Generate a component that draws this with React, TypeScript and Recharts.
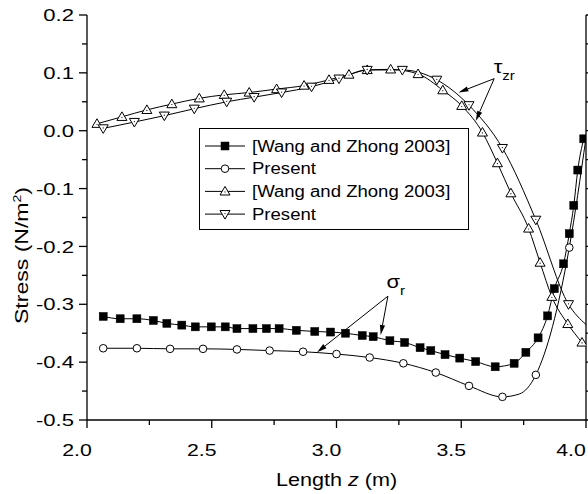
import React from 'react';
import { ComposedChart, Line, XAxis, YAxis, ReferenceLine, ReferenceDot, Legend } from 'recharts';

// ---------- data ----------
// sigma_r, [Wang and Zhong 2003] (filled squares)
const sqZ = [2.065, 2.133, 2.2, 2.266, 2.32, 2.38, 2.434, 2.498, 2.554, 2.601, 2.665, 2.719, 2.77, 2.839, 2.913, 2.976, 3.036, 3.103, 3.147, 3.214, 3.273, 3.335, 3.378, 3.435, 3.494, 3.558, 3.636, 3.712, 3.759, 3.808, 3.846, 3.873, 3.91, 3.933, 3.951, 3.967, 3.991];
const sqV = [-0.321, -0.325, -0.325, -0.328, -0.333, -0.336, -0.339, -0.339, -0.339, -0.342, -0.342, -0.342, -0.342, -0.345, -0.347, -0.348, -0.35, -0.354, -0.356, -0.363, -0.366, -0.375, -0.38, -0.387, -0.393, -0.399, -0.408, -0.402, -0.383, -0.358, -0.32, -0.273, -0.23, -0.178, -0.129, -0.068, -0.014];

// sigma_r, Present (open circles)
const ciZ = [2.065, 2.2, 2.333, 2.465, 2.601, 2.732, 2.866, 3.0, 3.133, 3.268, 3.398, 3.531, 3.665, 3.733, 3.799, 3.933, 4.0];
const ciV = [-0.376, -0.376, -0.377, -0.377, -0.378, -0.38, -0.382, -0.386, -0.392, -0.402, -0.418, -0.441, -0.46, -0.455, -0.422, -0.202, -0.012];
const ciMark = [1, 1, 1, 1, 1, 1, 1, 1, 1, 1, 1, 1, 1, 0, 1, 1, 0];

// tau_zr, [Wang and Zhong 2003] (up triangles)
const upZ = [2.04, 2.14, 2.24, 2.34, 2.45, 2.55, 2.65, 2.76, 2.87, 2.97, 3.05, 3.123, 3.217, 3.327, 3.426, 3.502, 3.585, 3.645, 3.699, 3.77, 3.816, 3.863, 3.927, 3.984];
const upV = [0.012, 0.024, 0.036, 0.046, 0.056, 0.062, 0.066, 0.072, 0.078, 0.088, 0.097, 0.105, 0.106, 0.098, 0.07, 0.043, -0.003, -0.056, -0.108, -0.169, -0.228, -0.287, -0.334, -0.366];

// tau_zr, Present (down triangles)
const dnZ = [2.065, 2.19, 2.31, 2.43, 2.56, 2.67, 2.78, 2.9, 3.01, 3.123, 3.264, 3.402, 3.531, 3.665, 3.799, 3.93, 4.0];
const dnV = [0.004, 0.015, 0.026, 0.038, 0.05, 0.058, 0.066, 0.076, 0.09, 0.105, 0.105, 0.088, 0.044, -0.03, -0.154, -0.3, -0.335];
const dnMark = [1, 1, 1, 1, 1, 1, 1, 1, 1, 1, 1, 1, 1, 1, 1, 1, 0];

const xMajor = [2.0, 2.5, 3.0, 3.5, 4.0];
const xTicks = [2.0, 2.25, 2.5, 2.75, 3.0, 3.25, 3.5, 3.75, 4.0];
const yMajor = [0.2, 0.1, 0.0, -0.1, -0.2, -0.3, -0.4, -0.5];
const yTicks = [0.2, 0.15, 0.1, 0.05, 0.0, -0.05, -0.1, -0.15, -0.2, -0.25, -0.3, -0.35, -0.4, -0.45, -0.5];

const legendNames = ['[Wang and Zhong 2003]', 'Present', '[Wang and Zhong 2003]', 'Present'];
const legendShapes = ['square', 'circle', 'up', 'down'];

// annotations (data coords)
const sigmaLabel = { z: 3.237, v: -0.272 };
const sigmaArrows = [
  { from: { z: 3.206, v: -0.286 }, to: { z: 2.922, v: -0.383 } },
  { from: { z: 3.206, v: -0.286 }, to: { z: 3.177, v: -0.353 } },
];
const tauLabel = { z: 3.672, v: 0.099 };
const tauArrows = [
  { from: { z: 3.632, v: 0.09 }, to: { z: 3.489, v: 0.066 } },
  { from: { z: 3.632, v: 0.09 }, to: { z: 3.558, v: 0.017 } },
];

const zip = (zs: number[], vs: number[], ms?: number[]) =>
  zs.map((z, i) => ({ z, v: vs[i], m: ms ? ms[i] : 1 }));

const sqData = zip(sqZ, sqV);
const ciData = zip(ciZ, ciV, ciMark);
const upData = zip(upZ, upV);
const dnData = zip(dnZ, dnV, dnMark);

const CHART_W = 588;
const CHART_H = 494;
const FONT = '"Liberation Sans", Arial, Helvetica, sans-serif';

// horizontally stretched text (the original figure's lettering is wide)
const SText = (p: any) => (
  <g transform={`translate(${p.x},${p.y}) scale(${p.sx},1)`}>
    <text x={0} y={0} dy={p.dy || 0} textAnchor={p.anchor || 'start'} fontSize={p.size} fontFamily={FONT} fill="#000">
      {p.children}
    </text>
  </g>
);

// ---------- markers ----------
const renderMarker = (shape: string, cx: number, cy: number, key?: any) => {
  if (shape === 'square') {
    return <rect key={key} x={cx - 4} y={cy - 4} width={8} height={8} fill="#000" stroke="#000" strokeWidth={0.5} />;
  }
  if (shape === 'circle') {
    return <circle key={key} cx={cx} cy={cy} r={3.8} fill="#fff" stroke="#000" strokeWidth={1} />;
  }
  if (shape === 'up') {
    return (
      <g key={key}>
        <polygon points={`${cx},${cy - 5} ${cx - 5},${cy + 3.6} ${cx + 5},${cy + 3.6}`} fill="#fff" stroke="#000" strokeWidth={1} />
        <circle cx={cx} cy={cy + 0.5} r={0.6} fill="#000" />
      </g>
    );
  }
  return (
    <g key={key}>
      <polygon points={`${cx},${cy + 5} ${cx - 5},${cy - 3.6} ${cx + 5},${cy - 3.6}`} fill="#fff" stroke="#000" strokeWidth={1} />
      <circle cx={cx} cy={cy - 0.5} r={0.6} fill="#000" />
    </g>
  );
};

const makeDot = (shape: string) => (props: any) => {
  const { cx, cy, payload, index } = props;
  if (!payload || !payload.m || cx == null || cy == null) return <g key={`d-${shape}-${index}`} />;
  return renderMarker(shape, cx, cy, `d-${shape}-${index}`);
};

// ---------- ticks ----------
const isIn = (arr: number[], v: number) => arr.some((a) => Math.abs(a - v) < 1e-9);

const XTick = (props: any) => {
  const { x, y, payload } = props;
  const v = payload.value;
  const major = isIn(xMajor, v);
  // keep the last label inside the picture
  const lx = Math.min(x - 10, CHART_W - 17);
  return (
    <g>
      <line x1={x} x2={x} y1={y} y2={y + (major ? 8 : 5)} stroke="#000" strokeWidth={1.3} />
      {major && (
        <SText x={lx} y={y + 36} sx={1.25} size={17} anchor="middle">
          {v.toFixed(1)}
        </SText>
      )}
    </g>
  );
};

const YTick = (props: any) => {
  const { x, y, payload } = props;
  const v = payload.value;
  const major = isIn(yMajor, v);
  return (
    <g>
      <line x1={x - (major ? 8 : 5)} x2={x} y1={y} y2={y} stroke="#000" strokeWidth={1.3} />
      {major && (
        <SText x={x - 13} y={y} dy="0.36em" sx={1.3} size={17} anchor="end">
          {Math.abs(v) < 1e-9 ? '0.0' : v.toFixed(1)}
        </SText>
      )}
    </g>
  );
};

const YTickRight = (props: any) => {
  const { x, y, payload } = props;
  const major = isIn(yMajor, payload.value);
  return <line x1={x} x2={x + (major ? 8 : 5)} y1={y} y2={y} stroke="#000" strokeWidth={1.3} />;
};

// ---------- axis titles ----------
const YTitle = (props: any) => {
  const vb = props.viewBox || {};
  const cx = (vb.x || 0) + 22;
  const cy = (vb.y || 0) + (vb.height || 0) / 2 + 38;
  return (
    <g transform={`translate(${cx},${cy}) rotate(-90) scale(1.28,1)`}>
      <text x={0} y={0} textAnchor="middle" dy="0.36em" fontSize={18} fontFamily={FONT} fill="#000">
        Stress (N/m
        <tspan fontSize={11} dy={-7}>2</tspan>
        <tspan dy={7}>)</tspan>
      </text>
    </g>
  );
};

const XTitle = (props: any) => {
  const vb = props.viewBox || {};
  const cx = (vb.x || 0) + (vb.width || 0) / 2;
  const cy = (vb.y || 0) + 66;
  return (
    <g transform={`translate(${cx},${cy}) scale(1.2,1)`}>
      <text x={0} y={0} textAnchor="middle" fontSize={18} fontFamily={FONT} fill="#000">
        Length <tspan fontStyle="italic">z</tspan> (m)
      </text>
    </g>
  );
};

// ---------- annotations ----------
const ArrowShape = (props: any) => {
  const { x1, y1, x2, y2 } = props;
  if ([x1, y1, x2, y2].some((n) => n == null || isNaN(n))) return <g />;
  const a = Math.atan2(y2 - y1, x2 - x1);
  const L = 10;
  const hw = 2.6;
  const bx = x2 - L * Math.cos(a);
  const by = y2 - L * Math.sin(a);
  const px = -Math.sin(a) * hw;
  const py = Math.cos(a) * hw;
  return (
    <g>
      <line x1={x1} y1={y1} x2={bx} y2={by} stroke="#000" strokeWidth={1} />
      <polygon points={`${x2},${y2} ${bx + px},${by + py} ${bx - px},${by - py}`} fill="#000" />
    </g>
  );
};

const SymbolLabel = (main: string, sub: string) => (props: any) => {
  const { cx, cy } = props;
  if (cx == null || cy == null) return <g />;
  return (
    <g transform={`translate(${cx},${cy}) scale(1.15,1)`}>
      <text x={0} y={0} fontSize={19} fontFamily={FONT} fill="#000" textAnchor="middle">
        {main}
        <tspan fontSize={13} dy={7}>{sub}</tspan>
      </text>
    </g>
  );
};

// ---------- legend ----------
const LegendBox = () => (
  <svg width={270} height={102} style={{ display: 'block' }}>
    <rect x={0.5} y={0.5} width={269} height={101} fill="#fff" stroke="#000" strokeWidth={1} />
    {legendNames.map((name, i) => {
      const cy = 18 + i * 22.7;
      return (
        <g key={i}>
          <line x1={6} x2={46} y1={cy} y2={cy} stroke="#000" strokeWidth={1} />
          {renderMarker(legendShapes[i], 26, cy)}
          <SText x={53} y={cy} dy="0.36em" sx={1.16} size={16}>
            {name}
          </SText>
        </g>
      );
    })}
  </svg>
);

export default function App() {
  return (
    <div style={{ position: 'absolute', left: 0, top: 0, width: CHART_W, height: CHART_H, background: '#fff' }}>
      <ComposedChart width={CHART_W} height={CHART_H} margin={{ top: 15, right: 0, bottom: 0, left: 0 }}>
        <XAxis
          xAxisId="b"
          type="number"
          dataKey="z"
          domain={[2, 4]}
          ticks={xTicks}
          interval={0}
          allowDataOverflow
          height={74}
          tickSize={0}
          tickMargin={0}
          tickLine={false}
          axisLine={{ stroke: '#000', strokeWidth: 1.3 }}
          tick={<XTick />}
          label={<XTitle />}
        />
        <XAxis
          xAxisId="t"
          orientation="top"
          type="number"
          domain={[2, 4]}
          height={0}
          tick={false}
          tickLine={false}
          axisLine={{ stroke: '#000', strokeWidth: 1.3 }}
          allowDataOverflow
        />
        <YAxis
          yAxisId="l"
          type="number"
          domain={[-0.5, 0.2]}
          ticks={yTicks}
          interval={0}
          allowDataOverflow
          width={87}
          tickSize={0}
          tickMargin={0}
          tickLine={false}
          axisLine={{ stroke: '#000', strokeWidth: 1.3 }}
          tick={<YTick />}
          label={<YTitle />}
        />
        <YAxis
          yAxisId="r"
          orientation="right"
          type="number"
          domain={[-0.5, 0.2]}
          ticks={yTicks}
          interval={0}
          allowDataOverflow
          width={2}
          tickSize={0}
          tickMargin={0}
          tickLine={false}
          axisLine={{ stroke: '#000', strokeWidth: 1.3 }}
          tick={<YTickRight />}
        />
        <Legend
          layout="horizontal"
          verticalAlign="middle"
          align="center"
          width={270}
          height={102}
          wrapperStyle={{ position: 'absolute', left: 199, top: 128, width: 270, height: 102 }}
          content={<LegendBox />}
        />
        <Line xAxisId="b" yAxisId="l" data={sqData} dataKey="v" name="[Wang and Zhong 2003]" type="monotone" stroke="#000" strokeWidth={1} dot={makeDot('square')} activeDot={false} isAnimationActive={false} />
        <Line xAxisId="b" yAxisId="l" data={ciData} dataKey="v" name="Present" type="monotone" stroke="#000" strokeWidth={1} dot={makeDot('circle')} activeDot={false} isAnimationActive={false} />
        <Line xAxisId="b" yAxisId="l" data={upData} dataKey="v" name="[Wang and Zhong 2003] " type="monotone" stroke="#000" strokeWidth={1} dot={makeDot('up')} activeDot={false} isAnimationActive={false} />
        <Line xAxisId="b" yAxisId="l" data={dnData} dataKey="v" name="Present " type="monotone" stroke="#000" strokeWidth={1} dot={makeDot('down')} activeDot={false} isAnimationActive={false} />
        {sigmaArrows.map((a, i) => (
          <ReferenceLine key={`sa${i}`} xAxisId="b" yAxisId="l" segment={[{ x: a.from.z, y: a.from.v }, { x: a.to.z, y: a.to.v }]} shape={ArrowShape} ifOverflow="visible" />
        ))}
        {tauArrows.map((a, i) => (
          <ReferenceLine key={`ta${i}`} xAxisId="b" yAxisId="l" segment={[{ x: a.from.z, y: a.from.v }, { x: a.to.z, y: a.to.v }]} shape={ArrowShape} ifOverflow="visible" />
        ))}
        <ReferenceDot xAxisId="b" yAxisId="l" x={sigmaLabel.z} y={sigmaLabel.v} r={0} shape={SymbolLabel('σ', 'r')} ifOverflow="visible" />
        <ReferenceDot xAxisId="b" yAxisId="l" x={tauLabel.z} y={tauLabel.v} r={0} shape={SymbolLabel('τ', 'zr')} ifOverflow="visible" />
      </ComposedChart>
    </div>
  );
}
